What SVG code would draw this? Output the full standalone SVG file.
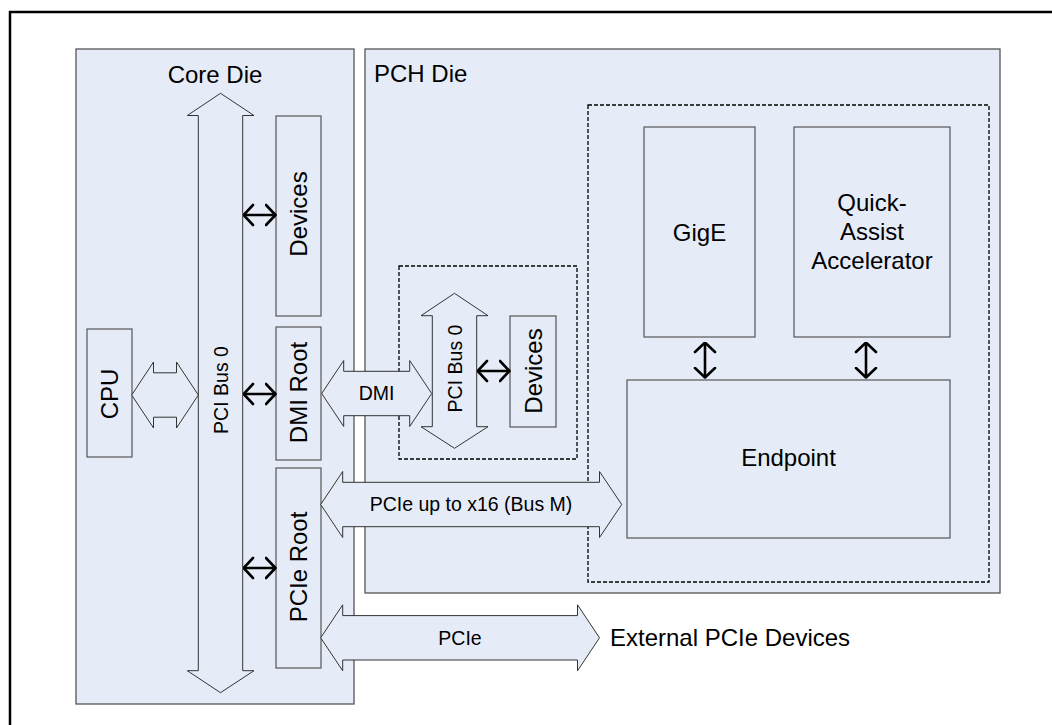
<svg xmlns="http://www.w3.org/2000/svg" width="1052" height="725" viewBox="0 0 1052 725">
<defs>
<marker id="chev" viewBox="0 0 12 24" refX="11" refY="12" markerWidth="12" markerHeight="24" markerUnits="userSpaceOnUse" orient="auto-start-reverse">
<path d="M1.5,2 L11,12 L1.5,22" fill="none" stroke="#000" stroke-width="2.6" stroke-linejoin="round" stroke-linecap="round"/>
</marker>
</defs>
<style>
text{font-family:"Liberation Sans",Arial,sans-serif;fill:#000}
.die{fill:#E6ECF7;stroke:#555;stroke-width:1.3}
.box{fill:#E6ECF7;stroke:#555;stroke-width:1.2}
.dash{fill:none;stroke:#000;stroke-width:1.3;stroke-dasharray:4 2}
.blk{fill:#E6ECF7;stroke:#333;stroke-width:1}
.sm{fill:none;stroke:#000;stroke-width:2.6;marker-start:url(#chev);marker-end:url(#chev)}
.t24{font-size:24px}
.t19{font-size:19.5px}
.mid{text-anchor:middle}
</style>
<rect width="1052" height="725" fill="#fff"/>
<rect x="10" y="12" width="1100" height="800" fill="none" stroke="#000" stroke-width="2.5"/>

<g id="core-die">
<rect class="die" x="76" y="49" width="278" height="655"/>
<text class="t24 mid" x="215" y="83">Core Die</text>
</g>
<g id="pch-die">
<rect class="die" x="365" y="49" width="635" height="544"/>
<text class="t24" x="374" y="82">PCH Die</text>
</g>
<g id="pch-group">
<rect class="dash" x="588" y="105" width="401" height="477"/>
</g>
<g id="pch-bus-group">
<rect class="dash" x="399" y="266" width="178" height="193"/>
</g>

<g id="cpu">
<rect class="box" x="87" y="329" width="45" height="128"/>
<text class="t24 mid" transform="translate(109.5,394) rotate(-90)" y="8.6">CPU</text>
</g>
<g id="core-devices">
<rect class="box" x="276" y="116" width="45" height="200"/>
<text class="t24 mid" transform="translate(298.5,214) rotate(-90)" y="8.6">Devices</text>
</g>
<g id="dmi-root">
<rect class="box" x="276" y="327" width="45" height="133"/>
<text class="t24 mid" transform="translate(298.5,392.5) rotate(-90)" y="8.6">DMI Root</text>
</g>
<g id="pcie-root">
<rect class="box" x="276" y="468" width="45" height="200"/>
<text class="t24 mid" transform="translate(298.5,567) rotate(-90)" y="8.6">PCIe Root</text>
</g>
<g id="pch-devices">
<rect class="box" x="510" y="316" width="46" height="111"/>
<text class="t24 mid" transform="translate(533,371) rotate(-90)" y="8.6">Devices</text>
</g>
<g id="gige">
<rect class="box" x="644" y="127" width="111" height="210"/>
<text class="t24 mid" x="699.5" y="240.5">GigE</text>
</g>
<g id="quickassist">
<rect class="box" x="794" y="127" width="156" height="210"/>
<text class="t24 mid" x="872" y="211">Quick-</text>
<text class="t24 mid" x="872" y="240">Assist</text>
<text class="t24 mid" x="872" y="269">Accelerator</text>
</g>
<g id="endpoint">
<rect class="box" x="627" y="380" width="323" height="158"/>
<text class="t24 mid" x="788.5" y="466">Endpoint</text>
</g>

<g id="core-bus">
<path class="blk" d="M220.5,93.3 L254,115.5 L242.7,115.5 L242.7,670.7 L254,670.7 L220.5,692.7 L187.3,670.7 L198.3,670.7 L198.3,115.5 L187.3,115.5 Z"/>
<text class="t19 mid" transform="translate(220.5,390) rotate(-90)" y="7">PCI Bus 0</text>
</g>
<g id="pch-bus">
<path class="blk" d="M454.5,293.3 L488,315.7 L476.7,315.7 L476.7,426.7 L488,426.7 L454.5,448.3 L421,426.7 L432.3,426.7 L432.3,315.7 L421,315.7 Z"/>
<text class="t19 mid" transform="translate(454.5,368.5) rotate(-90)" y="7">PCI Bus 0</text>
</g>

<g id="connectors">
<path class="blk" d="M131.7,395 L153.5,362 L153.5,372.8 L176.5,372.8 L176.5,362 L198.3,395 L176.5,428 L176.5,417.2 L153.5,417.2 L153.5,428 Z"/>
<path class="blk" d="M321.7,393.5 L343.7,360.5 L343.7,371.3 L409.7,371.3 L409.7,360.5 L431.7,393.5 L409.7,426.5 L409.7,415.7 L343.7,415.7 L343.7,426.5 Z"/>
<text class="t19 mid" x="376.5" y="400">DMI</text>
<path class="blk" d="M320.7,504.5 L342.7,471.5 L342.7,482.3 L599.5,482.3 L599.5,471.5 L621.7,504.5 L599.5,537.5 L599.5,526.7 L342.7,526.7 L342.7,537.5 Z"/>
<text class="t19 mid" x="471" y="511">PCIe up to x16 (Bus M)</text>
<path class="blk" d="M320.7,637.8 L342.7,604.8 L342.7,615.6 L577.5,615.6 L577.5,604.8 L599.5,637.8 L577.5,670.8 L577.5,660 L342.7,660 L342.7,670.8 Z"/>
<text class="t19 mid" x="460" y="644.5">PCIe</text>
<line class="sm" x1="243.5" y1="215" x2="275.5" y2="215"/>
<line class="sm" x1="243.5" y1="394" x2="275.5" y2="394"/>
<line class="sm" x1="243.5" y1="568" x2="275.5" y2="568"/>
<line class="sm" x1="477.5" y1="371" x2="509.5" y2="371"/>
<line class="sm" x1="705" y1="342.5" x2="705" y2="377.5"/>
<line class="sm" x1="866" y1="342.5" x2="866" y2="377.5"/>
</g>
<text class="t24" x="610" y="645.5">External PCIe Devices</text>
</svg>
